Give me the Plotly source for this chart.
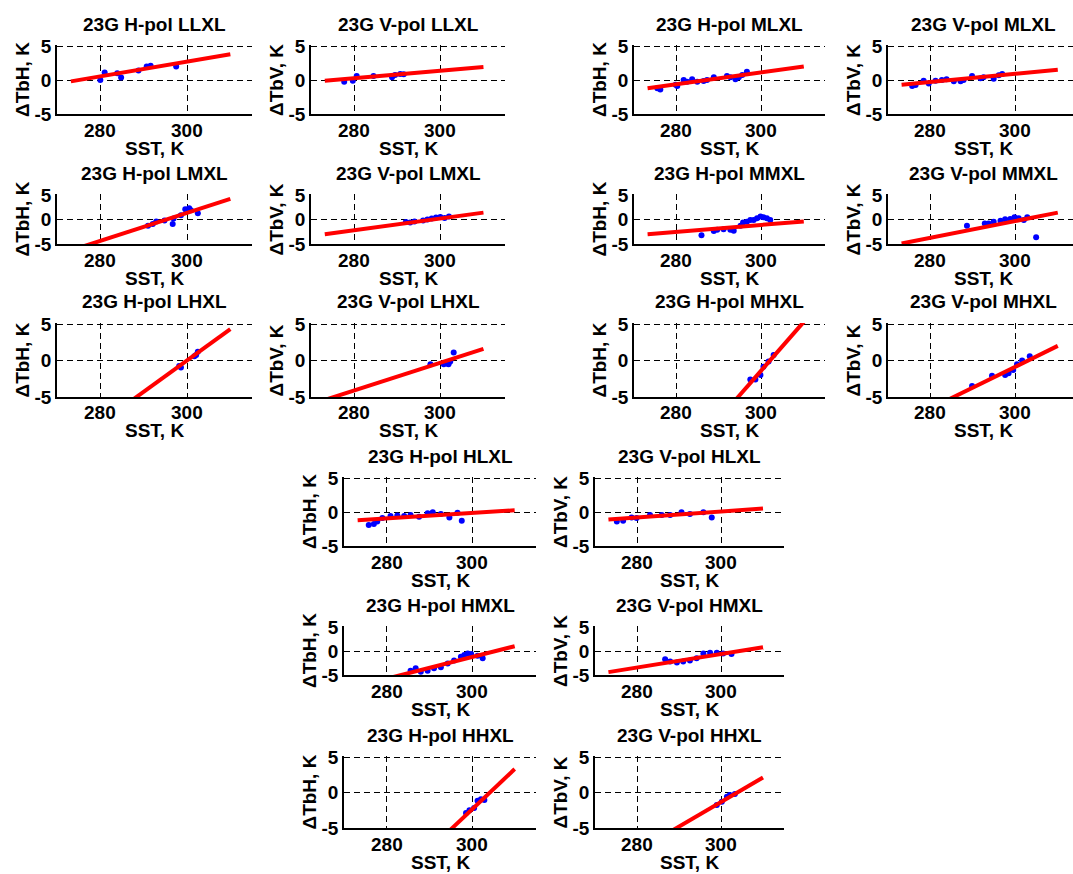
import plotly.graph_objects as go

W, H = 1073, 874

# ---------------- data ----------------
fit_sst = [273.2, 310.0]
x_ticks = [280, 300]
y_ticks = [-5, 0, 5]
x_range = [270, 315]
y_range = [-5, 5]

sst_h_llxl = [280.0, 281.0, 283.9, 284.8, 288.8, 290.7, 291.6, 297.5]
dtb_h_llxl = [0.0, 1.1, 1.0, 0.35, 1.4, 2.0, 2.1, 2.0]
fit_h_llxl = [-0.2, 3.8]

sst_v_llxl = [277.7, 279.7, 280.6, 284.5, 288.8, 289.5, 290.7, 291.5]
dtb_v_llxl = [-0.25, -0.1, 0.6, 0.6, 0.4, 0.75, 0.9, 0.85]
fit_v_llxl = [-0.1, 1.9]

sst_h_mlxl = [275.5, 276.2, 279.8, 280.2, 281.7, 282.5, 283.7, 284.9, 286.4, 287.2, 288.8,
              291.9, 292.7, 293.9, 294.7, 295.5, 296.6]
dtb_h_mlxl = [-1.2, -1.4, -0.7, -0.9, 0.0, -0.25, 0.1, -0.25, -0.15, 0.0, 0.4,
              0.6, 0.4, 0.1, 0.4, 0.75, 1.2]
fit_h_mlxl = [-1.2, 2.0]

sst_v_mlxl = [275.7, 276.5, 278.4, 279.6, 281.2, 282.7, 283.8, 285.5, 287.1, 287.8, 289.8,
              291.8, 292.5, 294.9, 296.1, 296.9]
dtb_v_mlxl = [-0.9, -0.75, -0.1, -0.5, -0.1, 0.0, 0.1, -0.2, -0.2, 0.0, 0.6,
              0.25, 0.4, 0.2, 0.7, 0.9]
fit_v_mlxl = [-0.7, 1.5]

sst_h_lmxl = [291.0, 292.1, 292.9, 294.8, 296.7, 296.9, 298.6, 299.6, 300.5, 300.9, 302.5]
dtb_h_lmxl = [-1.3, -0.9, -0.4, -0.2, -0.9, 0.2, 0.85, 2.1, 2.3, 1.9, 1.3]
fit_h_lmxl = [-6.3, 4.2]

sst_v_lmxl = [292.0, 293.0, 294.0, 296.0, 297.0, 298.0, 299.0, 300.0, 301.0, 302.0]
dtb_v_lmxl = [-0.5, -0.6, -0.4, -0.2, 0.0, 0.2, 0.4, 0.5, 0.3, 0.6]
fit_v_lmxl = [-3.0, 1.4]

sst_h_mmxl = [285.9, 288.8, 289.6, 291.1, 292.7, 293.5, 295.1, 295.7, 296.6, 297.4, 298.2,
              299.0, 299.8, 300.5, 301.3, 302.1]
dtb_h_mmxl = [-3.2, -2.35, -2.1, -2.0, -2.1, -2.3, -1.3, -0.6, -0.45, -0.1, -0.1,
              0.25, 0.6, 0.45, 0.25, -0.1]
fit_h_mmxl = [-3.0, -0.4]

sst_v_mmxl = [288.6, 292.8, 293.7, 294.9, 296.5, 297.6, 298.8, 299.8, 300.8, 302.0, 302.8, 304.9]
dtb_v_mmxl = [-1.3, -0.8, -0.8, -0.45, -0.25, 0.05, 0.1, 0.45, 0.25, -0.1, 0.45, -3.6]
fit_v_mmxl = [-4.9, 1.4]

sst_h_lhxl = [298.2, 298.6, 301.7, 302.1, 302.5]
dtb_h_lhxl = [-0.75, -0.95, 0.6, 0.75, 1.2]
fit_h_lhxl = [-11.5, 4.3]

sst_v_lhxl = [297.7, 300.8, 301.6, 301.9, 302.3, 303.1]
dtb_v_lhxl = [-0.5, -0.5, -0.4, -0.5, -0.15, 1.1]
fit_v_lhxl = [-5.4, 1.6]

sst_h_mhxl = [297.4, 298.6, 299.8, 300.5, 301.7, 302.9]
dtb_h_mhxl = [-2.6, -2.6, -2.0, -0.85, -0.15, 0.75]
fit_h_mhxl = [-19.2, 5.3]

sst_v_mhxl = [289.8, 294.5, 297.6, 298.4, 299.5, 300.4, 301.6, 303.4]
dtb_v_mhxl = [-3.5, -2.1, -2.0, -1.75, -1.3, -0.5, 0.0, 0.6]
fit_v_mhxl = [-8.5, 2.0]

sst_h_hlxl = [275.8, 277.0, 277.8, 279.0, 280.9, 282.5, 284.1, 285.6, 287.6, 289.6, 290.8,
              292.7, 294.7, 296.6, 297.6]
dtb_h_hlxl = [-1.9, -1.75, -1.4, -0.9, -0.6, -0.5, -0.6, -0.45, -0.7, -0.2, -0.05,
              -0.3, -0.8, -0.1, -1.3]
fit_h_hlxl = [-1.2, 0.25]

sst_v_hlxl = [275.2, 276.7, 278.7, 279.9, 283.1, 285.9, 287.9, 290.6, 292.6, 295.8, 297.8]
dtb_v_hlxl = [-1.4, -1.3, -0.8, -0.9, -0.45, -0.45, -0.45, -0.05, -0.3, -0.05, -0.8]
fit_v_hlxl = [-1.1, 0.5]

sst_h_hmxl = [285.6, 286.8, 288.0, 289.6, 291.1, 292.7, 294.3, 295.8, 297.4, 298.2, 299.0,
              299.8, 301.3, 302.5]
dtb_h_hmxl = [-4.1, -3.6, -4.3, -4.1, -3.6, -3.4, -2.6, -2.0, -1.2, -0.85, -0.5,
              -0.6, -1.0, -1.5]
fit_h_hmxl = [-7.3, 1.0]

sst_v_hmxl = [286.7, 287.9, 289.5, 291.0, 292.6, 294.2, 295.8, 297.4, 299.0, 300.5, 302.5]
dtb_v_hmxl = [-1.7, -2.2, -2.4, -2.2, -2.0, -1.5, -0.5, -0.35, -0.35, -0.5, -0.6]
fit_v_hmxl = [-4.4, 0.8]

sst_h_hhxl = [298.6, 299.4, 300.5, 301.3, 302.1, 302.9]
dtb_h_hhxl = [-2.9, -2.5, -2.2, -1.15, -0.95, -1.05]
fit_h_hhxl = [-17.6, 3.3]

sst_v_hhxl = [299.0, 300.2, 301.4, 302.1, 303.3]
dtb_v_hhxl = [-1.75, -1.3, -0.6, -0.35, -0.2]
fit_v_hhxl = [-10.6, 2.1]

# ---------------- layout geometry (pixels) ----------------
cols = {1: (57, 252), 2: (311, 505), 3: (634, 825), 4: (888, 1079),
        5: (344, 536), 6: (595, 784)}
rows = {1: (46, 114), 2: (195, 244), 3: (324, 397),
        4: (478, 546), 5: (627, 675), 6: (757, 828)}

panels = [
    ("23G H-pol LLXL", "ΔTbH, K", sst_h_llxl, dtb_h_llxl, fit_h_llxl, 1, 1),
    ("23G V-pol LLXL", "ΔTbV, K", sst_v_llxl, dtb_v_llxl, fit_v_llxl, 2, 1),
    ("23G H-pol MLXL", "ΔTbH, K", sst_h_mlxl, dtb_h_mlxl, fit_h_mlxl, 3, 1),
    ("23G V-pol MLXL", "ΔTbV, K", sst_v_mlxl, dtb_v_mlxl, fit_v_mlxl, 4, 1),
    ("23G H-pol LMXL", "ΔTbH, K", sst_h_lmxl, dtb_h_lmxl, fit_h_lmxl, 1, 2),
    ("23G V-pol LMXL", "ΔTbV, K", sst_v_lmxl, dtb_v_lmxl, fit_v_lmxl, 2, 2),
    ("23G H-pol MMXL", "ΔTbH, K", sst_h_mmxl, dtb_h_mmxl, fit_h_mmxl, 3, 2),
    ("23G V-pol MMXL", "ΔTbV, K", sst_v_mmxl, dtb_v_mmxl, fit_v_mmxl, 4, 2),
    ("23G H-pol LHXL", "ΔTbH, K", sst_h_lhxl, dtb_h_lhxl, fit_h_lhxl, 1, 3),
    ("23G V-pol LHXL", "ΔTbV, K", sst_v_lhxl, dtb_v_lhxl, fit_v_lhxl, 2, 3),
    ("23G H-pol MHXL", "ΔTbH, K", sst_h_mhxl, dtb_h_mhxl, fit_h_mhxl, 3, 3),
    ("23G V-pol MHXL", "ΔTbV, K", sst_v_mhxl, dtb_v_mhxl, fit_v_mhxl, 4, 3),
    ("23G H-pol HLXL", "ΔTbH, K", sst_h_hlxl, dtb_h_hlxl, fit_h_hlxl, 5, 4),
    ("23G V-pol HLXL", "ΔTbV, K", sst_v_hlxl, dtb_v_hlxl, fit_v_hlxl, 6, 4),
    ("23G H-pol HMXL", "ΔTbH, K", sst_h_hmxl, dtb_h_hmxl, fit_h_hmxl, 5, 5),
    ("23G V-pol HMXL", "ΔTbV, K", sst_v_hmxl, dtb_v_hmxl, fit_v_hmxl, 6, 5),
    ("23G H-pol HHXL", "ΔTbH, K", sst_h_hhxl, dtb_h_hhxl, fit_h_hhxl, 5, 6),
    ("23G V-pol HHXL", "ΔTbV, K", sst_v_hhxl, dtb_v_hhxl, fit_v_hhxl, 6, 6),
]

FONT = "Liberation Sans, Arial, Helvetica, sans-serif"
FS = 19
font_b = dict(family=FONT, size=FS, color="black", weight="bold")
TOP_PAD = 0.15  # extra data units above 5 so the top dashed grid line is drawn

fig = go.Figure()
annotations = []
layout_axes = {}

for i, (title, ylab, sst, dtb, fit, c, r) in enumerate(panels, 1):
    sfx = "" if i == 1 else str(i)
    xr, yr = "x" + sfx, "y" + sfx
    fig.add_trace(go.Scatter(x=sst, y=dtb, mode="markers",
                             marker=dict(color="#0000ff", size=6, line=dict(width=0)),
                             xaxis=xr, yaxis=yr, showlegend=False, hoverinfo="skip"))
    fig.add_trace(go.Scatter(x=fit_sst, y=fit, mode="lines",
                             line=dict(color="#ff0000", width=4),
                             xaxis=xr, yaxis=yr, showlegend=False, hoverinfo="skip"))
    x0, x1 = cols[c]
    y0, y1 = rows[r]
    full_w = x1 - x0
    xrng = list(x_range)
    if x1 > W:
        px_per_unit = full_w / (x_range[1] - x_range[0])
        xrng = [x_range[0], x_range[0] + (W - x0) / px_per_unit]
        x1 = W
    ppu_y = (y1 - y0) / (y_range[1] - y_range[0])
    y0_ext = y0 - TOP_PAD * ppu_y
    grid = dict(showgrid=True, gridcolor="black", gridwidth=1, griddash="6px,4px")
    layout_axes["xaxis" + sfx] = dict(
        domain=[x0 / W, x1 / W], range=xrng, anchor=yr, automargin=False,
        tickvals=x_ticks, showticklabels=False,
        showline=True, linecolor="black", linewidth=1.5,
        ticks="", zeroline=False, fixedrange=True, **grid)
    layout_axes["yaxis" + sfx] = dict(
        domain=[1 - y1 / H, 1 - y0_ext / H], range=[y_range[0], y_range[1] + TOP_PAD],
        anchor=xr, automargin=False,
        tickvals=y_ticks, ticktext=[str(v) for v in y_ticks],
        showline=True, linecolor="black", linewidth=1.5,
        ticks="", zeroline=False, tickfont=font_b, fixedrange=True, **grid)
    cx = 0.5 * full_w / (x1 - x0)
    y_top_frac = (y1 - y0) / (y1 - y0_ext)
    # x tick labels
    for tv in x_ticks:
        annotations.append(dict(text=str(tv), xref=xr, yref=yr + " domain",
                                x=tv, y=0, yshift=-16, xanchor="center", yanchor="middle",
                                showarrow=False, font=font_b))
    annotations.append(dict(text=title, xref=xr + " domain", yref=yr + " domain",
                            x=cx, y=y_top_frac, yshift=22, xanchor="center", yanchor="middle",
                            showarrow=False, font=font_b))
    annotations.append(dict(text="SST, K", xref=xr + " domain", yref=yr + " domain",
                            x=cx, y=0, yshift=-34, xanchor="center", yanchor="middle",
                            showarrow=False, font=font_b))
    annotations.append(dict(text=ylab, xref=xr + " domain", yref=yr + " domain",
                            x=0, y=0.5 * y_top_frac, xshift=-35, xanchor="center",
                            yanchor="middle", textangle=-90, showarrow=False, font=font_b))

fig.update_layout(
    template="none",
    width=W, height=H, margin=dict(l=0, r=0, t=0, b=0, autoexpand=False),
    paper_bgcolor="white", plot_bgcolor="white",
    annotations=annotations, **layout_axes)

fig.write_html(
    "out.html",
    config={"displayModeBar": False, "responsive": False},
    post_script="document.body.style.margin='0px';"
                "document.documentElement.style.overflow='hidden';"
                "document.body.style.overflow='hidden';",
)
